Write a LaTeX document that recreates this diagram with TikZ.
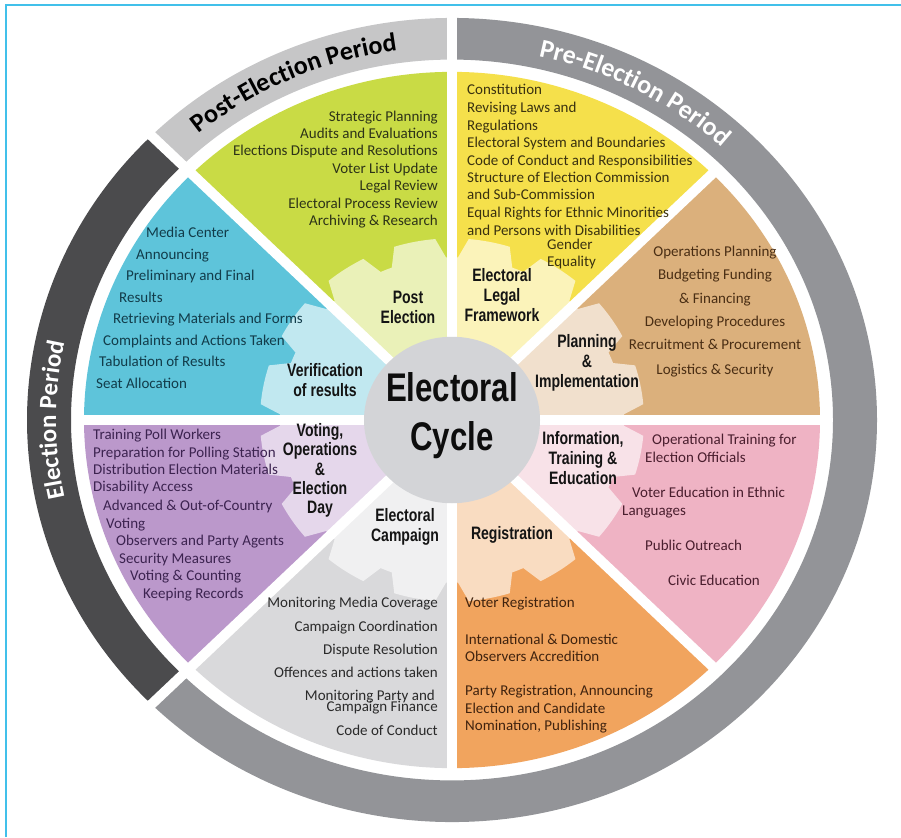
\documentclass[tikz,border=0pt]{standalone}
\usepackage{fontspec}
\setmainfont{Carlito}
\newfontfamily\headfont[FakeStretch=0.78]{Liberation Sans}
\newfontfamily\ringfont{Carlito}
\usetikzlibrary{decorations.text}
\definecolor{cFrame}{HTML}{41C0EA}
\definecolor{cRingPre}{HTML}{939498}
\definecolor{cRingPost}{HTML}{C6C6C7}
\definecolor{cRingEl}{HTML}{4B4B4D}
\definecolor{cPost}{HTML}{C9DB45}
\definecolor{cLegal}{HTML}{F5E04B}
\definecolor{cPlan}{HTML}{DBB07C}
\definecolor{cInfo}{HTML}{EFB3C4}
\definecolor{cReg}{HTML}{F1A45E}
\definecolor{cCamp}{HTML}{D9D9DB}
\definecolor{cVote}{HTML}{BB98CB}
\definecolor{cVer}{HTML}{5EC4DA}
\definecolor{cCore}{HTML}{D3D4D7}
\definecolor{tPost}{HTML}{2D3318}
\definecolor{tLegal}{HTML}{3A3210}
\definecolor{tPlan}{HTML}{4A2E14}
\definecolor{tInfo}{HTML}{4A1E2E}
\definecolor{tReg}{HTML}{40230F}
\definecolor{tCamp}{HTML}{2A2A2A}
\definecolor{tVote}{HTML}{3C2350}
\definecolor{tVer}{HTML}{123C4A}
\tikzset{
  item/.style={font=\fontsize{15}{18}\selectfont, inner sep=0pt},
  lab/.style={font=\headfont\bfseries\fontsize{18}{20}\selectfont, align=center, inner sep=0pt, text=black!92},
  gap/.style={white, line width=10pt},
}
\begin{document}
\begin{tikzpicture}[x=1pt,y=1pt]
\useasboundingbox (0,0) rectangle (901,-837);
\fill[white] (0,0) rectangle (901,-837);
\draw[cFrame, line width=1.5pt] (6,-837) -- (6,-5) -- (901,-5);
\coordinate (O) at (452,-420);

\begin{scope}[shift={(452,-420)}, yscale=0.946]
  % outer ring
  \fill[cRingPre] (90:425) arc[start angle=90, end angle=-135, radius=425] -- (-135:381) arc[start angle=-135, end angle=90, radius=381] -- cycle;
  \fill[cRingPost] (90:425) arc[start angle=90, end angle=135, radius=425] -- (135:381) arc[start angle=135, end angle=90, radius=381] -- cycle;
  \fill[cRingEl] (135:425) arc[start angle=135, end angle=225, radius=425] -- (225:381) arc[start angle=225, end angle=135, radius=381] -- cycle;
  \foreach \a in {90,135,225} \draw[gap] (\a:374) -- (\a:432);
  % sectors
  \foreach \a/\c in {0/cPlan,45/cLegal,90/cPost,135/cVer,180/cVote,225/cCamp,270/cReg,315/cInfo}
    \fill[\c] (0,0) -- (\a:368) arc[start angle=\a, end angle=\a+45, radius=368] -- cycle;
  % gear overlay
  \fill[white, opacity=0.62] (2:172) \foreach \k in {0,...,15}{
     -- (\k*22.5+2:172) -- (\k*22.5+5:192)
     arc[start angle=\k*22.5+5, end angle=\k*22.5+17.5, radius=192]
     -- (\k*22.5+20.5:172)
     arc[start angle=\k*22.5+20.5, end angle=\k*22.5+24.5, radius=172]} -- cycle;
  % dividers
  \foreach \a in {0,45,...,315} \draw[gap] (0,0) -- (\a:372);
  \fill[cCore] (0,0) circle[radius=88];
\end{scope}

% ring texts
\begin{scope}[shift={(452,-420)}]
  \path[decorate, decoration={text along path, text align=center, text color=black,
     text={|\ringfont\bfseries\fontsize{26}{26}\selectfont|Post-Election Period}}]
     (136:395 and 373) arc[start angle=136, end angle=92, x radius=395, y radius=373];
  \path[decorate, decoration={text along path, text align=center, text color=white,
     text={|\ringfont\bfseries\fontsize{26}{26}\selectfont|Pre-Election Period}}]
     (86:395 and 373) arc[start angle=86, end angle=38, x radius=395, y radius=373];
  \path[decorate, decoration={text along path, text align=center, text color=white,
     text={|\ringfont\bfseries\fontsize{25}{25}\selectfont|Election Period}}]
     (202:396 and 374) arc[start angle=202, end angle=158, x radius=396, y radius=374];
\end{scope}

% centre
\node[font=\headfont\bfseries\fontsize{40}{49}\selectfont, align=center, inner sep=0pt, text=black!95] (core) at (452,-416) {Electoral\\Cycle};

% sector labels
\node[lab] (lPost) at (408,-307.5) {Post\\Election};
\node[lab] (lLegal) at (502,-295) {Electoral\\Legal\\Framework};
\node[lab] (lPlan) at (587,-363) {Planning\\\&\\Implementation};
\node[lab] (lInfo) at (583,-458.5) {Information,\\Training \&\\Education};
\node[lab] (lReg) at (512,-535) {Registration};
\node[lab] (lCamp) at (405,-527) {Electoral\\Campaign};
\node[lab, font=\headfont\bfseries\fontsize{18}{19.3}\selectfont] (lVote) at (320,-470.5) {Voting,\\Operations\\\&\\Election\\Day};
\node[lab] (lVer) at (325,-380.5) {Verification\\of results};

% Post election items
\foreach \t/\y [count=\i] in {Strategic Planning/119, Audits and Evaluations/136, Elections Dispute and Resolutions/153, Voter List Update/171, Legal Review/188, Electoral Process Review/206, Archiving \& Research/223}
  \node[item, anchor=mid east, text=tPost] (post\i) at (438,-\y) {\t};

% Legal items
\foreach \t/\x/\y [count=\i] in {Constitution/467/92, Revising Laws and/467/110, Regulations/467/128, Electoral System and Boundaries/467/145, Code of Conduct and Responsibilities/467/163, Structure of Election Commission/467/180, and Sub-Commission/467/197, Equal Rights for Ethnic Minorities/467/215, and Persons with Disabilities/467/233, Gender/547/247, Equality/547/264}
  \node[item, anchor=mid west, text=tLegal] (legal\i) at (\x,-\y) {\t};

% Planning items
\foreach \t/\y [count=\i] in {Operations Planning/254, Budgeting Funding/277, \& Financing/301, Developing Procedures/324, Recruitment \& Procurement/347, Logistics \& Security/372}
  \node[item, anchor=mid, text=tPlan] (plan\i) at (715,-\y) {\t};

% Information items
\foreach \t/\x/\y [count=\i] in {Operational Training for/652/442, Election Officials/645/460, Voter Education in Ethnic/632/495, Languages/622/513, Public Outreach/645/548, Civic Education/668/583}
  \node[item, anchor=mid west, text=tInfo] (info\i) at (\x,-\y) {\t};

% Registration items
\foreach \t/\y [count=\i] in {Voter Registration/605, International \& Domestic/642, Observers Accredition/659, {Party Registration, Announcing}/693, Election and Candidate/711, {Nomination, Publishing}/728}
  \node[item, anchor=mid west, text=tReg] (reg\i) at (465,-\y) {\t};

% Campaign items
\foreach \t/\x/\y [count=\i] in {Monitoring Media Coverage/438/605, Campaign Coordination/438/629, Dispute Resolution/438/652, Offences and actions taken/438/675, Monitoring Party and/435/698, Campaign Finance/438/709, Code of Conduct/438/733}
  \node[item, anchor=mid east, text=tCamp] (camp\i) at (\x,-\y) {\t};

% Voting items
\foreach \t/\x/\y [count=\i] in {Training Poll Workers/93/437, Preparation for Polling Station/93/455, Distribution Election Materials/93/472, Disability Access/93/489, Advanced \& Out-of-Country/103/508, Voting/106/526, Observers and Party Agents/116/543, Security Measures/119/561, Voting \& Counting/130/578, Keeping Records/143/596}
  \node[item, anchor=mid west, text=tVote] (vote\i) at (\x,-\y) {\t};

% Verification items
\foreach \t/\x/\y [count=\i] in {Media Center/146/235, Announcing/136/257, Preliminary and Final/126/278, Results/119/300, Retrieving Materials and Forms/113/321, Complaints and Actions Taken/103/343, Tabulation of Results/99/364, Seat Allocation/96/386}
  \node[item, anchor=mid west, text=tVer] (ver\i) at (\x,-\y) {\t};
\end{tikzpicture}
\end{document}
